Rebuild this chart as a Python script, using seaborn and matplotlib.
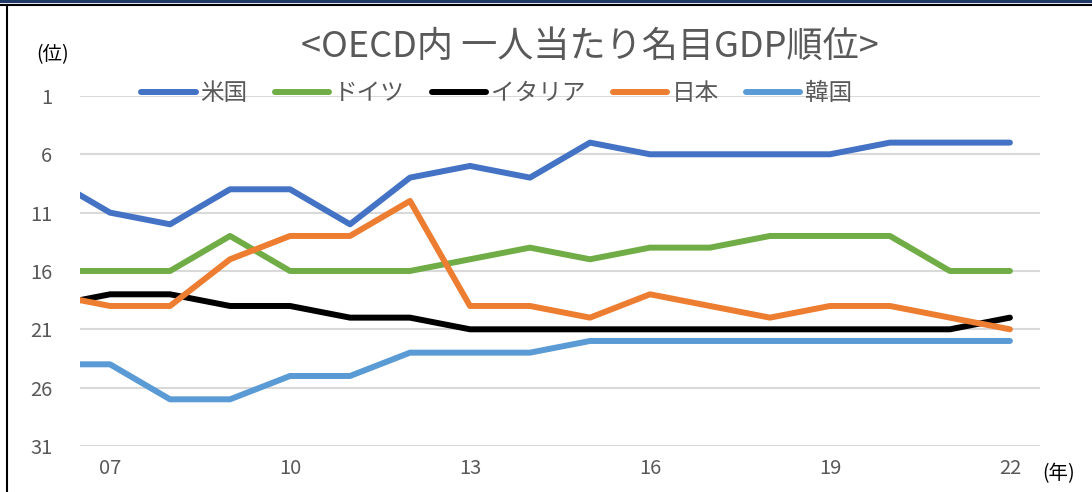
import matplotlib
matplotlib.use("Agg")
import matplotlib.pyplot as plt
from matplotlib.lines import Line2D
import numpy as np
import pandas as pd
import seaborn as sns

# データ（OECD内 一人当たり名目GDP順位）
years = list(range(2006, 2023))
countries = ["米国", "ドイツ", "イタリア", "日本", "韓国"]
rank_us = [8, 11, 12, 9, 9, 12, 8, 7, 8, 5, 6, 6, 6, 6, 5, 5, 5]
rank_de = [16, 16, 16, 13, 16, 16, 16, 15, 14, 15, 14, 14, 13, 13, 13, 16, 16]
rank_it = [19, 18, 18, 19, 19, 20, 20, 21, 21, 21, 21, 21, 21, 21, 21, 21, 20]
rank_jp = [18, 19, 19, 15, 13, 13, 10, 19, 19, 20, 18, 19, 20, 19, 19, 20, 21]
rank_kr = [24, 24, 27, 27, 25, 25, 23, 23, 23, 22, 22, 22, 22, 22, 22, 22, 22]
colors = ["#4472C4", "#70AD47", "#000000", "#ED7D31", "#5B9BD5"]
y_ticks = [1, 6, 11, 16, 21, 26, 31]
x_ticks = [2007, 2010, 2013, 2016, 2019, 2022]
x_labels = ["07", "10", "13", "16", "19", "22"]

df = pd.DataFrame({
    "年": years * 5,
    "順位": rank_us + rank_de + rank_it + rank_jp + rank_kr,
    "国": sum([[c] * len(years) for c in countries], []),
})

sns.set_style("white")
plt.rcParams["font.family"] = ["Noto Sans CJK JP", "DejaVu Sans"]

fig = plt.figure(figsize=(10.92, 4.92), dpi=100)
ax = fig.add_axes([0.0733, 0.0935, 0.879, 0.7115])

sns.lineplot(data=df, x="年", y="順位", hue="国", hue_order=countries,
             palette=colors, linewidth=4.3, ax=ax, legend=False,
             solid_capstyle="round", clip_on=True)

ax.set_xlim(2006.5, 2022.5)
ax.set_ylim(31, 1)
ax.set_yticks(y_ticks)
ax.set_xticks(x_ticks)
ax.set_xticklabels(x_labels)
ax.set_xlabel("")
ax.set_ylabel("")
ax.yaxis.grid(True, color="#d9d9d9", linewidth=1.5)
ax.set_axisbelow(True)
for s in ax.spines.values():
    s.set_visible(False)
ax.tick_params(axis="both", length=0, labelsize=14.5, colors="#595959")
ax.tick_params(axis="y", pad=20)
ax.tick_params(axis="x", pad=9)

# 凡例
handles = [Line2D([0], [0], color=c, linewidth=4.3, solid_capstyle="round")
           for c in colors]
leg = fig.legend(handles, countries, loc="center", bbox_to_anchor=(0.455, 0.81),
                 ncol=5, frameon=False, fontsize=17, handlelength=2.3,
                 columnspacing=1.15, handletextpad=0.2)
for t in leg.get_texts():
    t.set_color("#595959")

fig.text(0.54, 0.905, "<OECD内 一人当たり名目GDP順位>", ha="center", va="center",
         fontsize=26, color="#595959")
fig.text(0.048, 0.888, "(位)", ha="center", va="center", fontsize=14, color="#000000")
fig.text(0.969, 0.038, "(年)", ha="center", va="center", fontsize=14, color="#000000")

# 枠線
fig.add_artist(Line2D([0, 1], [0.997, 0.997], color="#1F3864", linewidth=3,
                      transform=fig.transFigure))
fig.add_artist(Line2D([0, 1], [0.99, 0.99], color="#000000", linewidth=1.5,
                      transform=fig.transFigure))
fig.add_artist(Line2D([0.0065, 0.0065], [0, 0.99], color="#000000", linewidth=1.5,
                      transform=fig.transFigure))

fig.savefig("out.png", dpi=100)
